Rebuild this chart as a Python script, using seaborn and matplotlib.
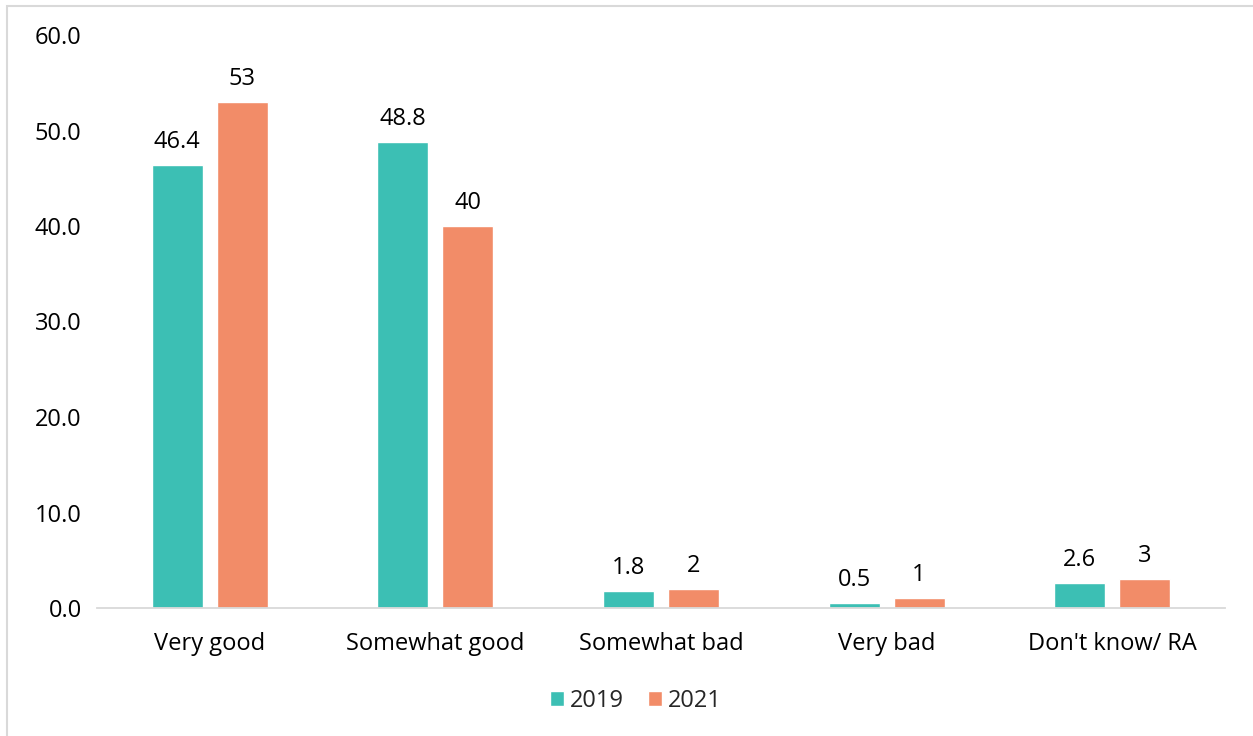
import matplotlib
matplotlib.use("Agg")
import matplotlib.pyplot as plt
import seaborn as sns
import pandas as pd
from matplotlib.patches import Rectangle

categories = ["Very good", "Somewhat good", "Somewhat bad", "Very bad", "Don't know/ RA"]
years = ["2019", "2021"]
values_2019 = [46.4, 48.8, 1.8, 0.5, 2.6]
values_2021 = [53, 40, 2, 1, 3]
labels_2019 = ["46.4", "48.8", "1.8", "0.5", "2.6"]
labels_2021 = ["53", "40", "2", "1", "3"]
yticks = [0, 10, 20, 30, 40, 50, 60]

colors = ["#3CBFB4", "#F28C68"]

sns.set_theme(style="white")
plt.rcParams['font.family'] = ['Open Sans', 'DejaVu Sans']
FS = 17

df = pd.DataFrame({
    "category": categories * 2,
    "year": [years[0]] * 5 + [years[1]] * 5,
    "value": values_2019 + values_2021,
})

fig = plt.figure(figsize=(12.53, 7.36), dpi=100)
ax = fig.add_axes([97 / 1253, 1 - 608 / 736, (1225 - 97) / 1253, (608 - 35) / 736])

sns.barplot(data=df, x="category", y="value", hue="year", palette=colors,
            width=0.576, gap=0.215, ax=ax, saturation=1, legend=True)

ax.set_ylim(0, 60)
ax.set_xlim(-0.5, 4.5)
ax.set_yticks(yticks)
ax.set_yticklabels([f"{v:.1f}" for v in yticks], fontsize=FS, color="#000000")
ax.tick_params(axis="y", length=0, pad=11)
ax.tick_params(axis="x", length=0, pad=17, labelsize=FS, labelcolor="#000000")
ax.set_xlabel("")
ax.set_ylabel("")
for s in ["left", "right", "top"]:
    ax.spines[s].set_visible(False)
ax.spines["bottom"].set_color("#D9D9D9")
ax.spines["bottom"].set_linewidth(1.3)

for cont, labs in zip(ax.containers, [labels_2019, labels_2021]):
    ax.bar_label(cont, labels=labs, padding=8, fontsize=FS, color="#000000")

ax.legend(loc="upper center", bbox_to_anchor=(0.5, -0.1), ncol=2, frameon=False,
          fontsize=FS, handlelength=0.6, handleheight=0.6, handletextpad=0.25,
          columnspacing=1.0)
ax.legend_.set_bbox_to_anchor((636 / 1253, 1 - 668 / 736), transform=fig.transFigure)

fig.patches.append(Rectangle((7 / 1253, -0.01), 1.02, 1 - 6 / 736 + 0.01,
                             transform=fig.transFigure, fill=False,
                             edgecolor="#D9D9D9", linewidth=1.5))

fig.savefig("out.png", dpi=100)
